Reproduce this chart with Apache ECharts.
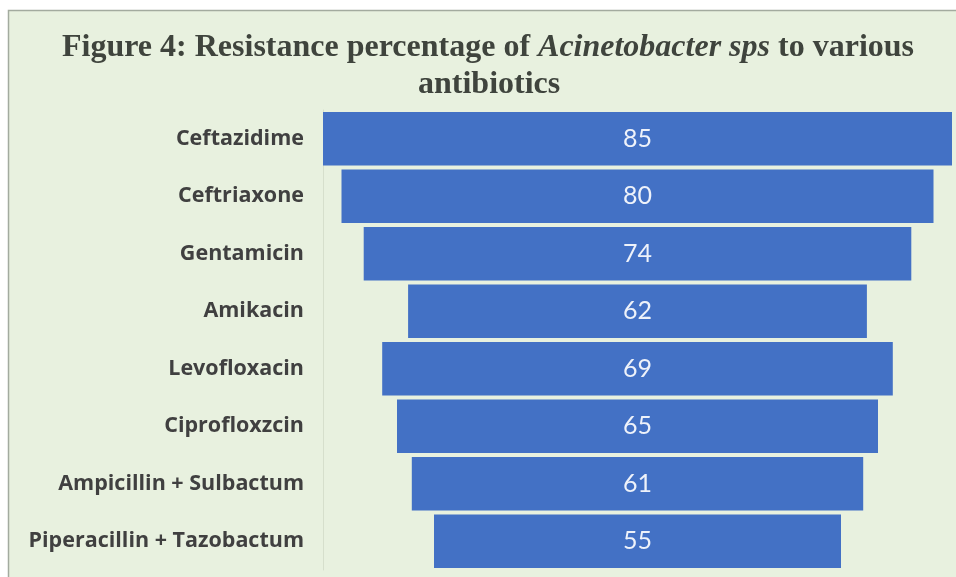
<!DOCTYPE html>
<html>
<head>
<meta charset="utf-8">
<script src="https://cdn.jsdelivr.net/npm/echarts@6/dist/echarts.min.js"></script>
<style>
html,body{margin:0;padding:0;background:#ffffff;}
#chart{width:956px;height:577px;}
</style>
</head>
<body>
<div id="chart"></div>
<script>
const categories = ['Ceftazidime','Ceftriaxone','Gentamicin','Amikacin','Levofloxacin','Ciprofloxzcin','Ampicillin + Sulbactum','Piperacillin + Tazobactum'];
const resistance = [85, 80, 74, 62, 69, 65, 61, 55];

const maxVal = Math.max(...resistance);
const padding = resistance.map(v => (maxVal - v) / 2);

const titleRich = {
  b: { fontFamily: 'Liberation Serif', fontWeight: 'bold', fontSize: 32, color: '#3f443d', lineHeight: 38 },
  i: { fontFamily: 'Liberation Serif', fontWeight: 'bold', fontStyle: 'italic', fontSize: 32, color: '#3f443d', lineHeight: 38 }
};

const chart = echarts.init(document.getElementById('chart'));
chart.setOption({
  backgroundColor: '#ffffff',
  animation: false,
  graphic: [{
    type: 'rect',
    z: -10,
    silent: true,
    shape: { x: 8.5, y: 10.5, width: 960, height: 580 },
    style: { fill: '#e8f1df', stroke: '#a3ab9f', lineWidth: 1.5 }
  }],
  title: [
    {
      left: 62, top: 29, padding: 0,
      text: '{b|Figure 4: Resistance percentage of }{i|Acinetobacter sps}{b| to various}',
      textStyle: { rich: titleRich }
    },
    {
      left: 418, top: 66, padding: 0,
      text: '{b|antibiotics}',
      textStyle: { rich: titleRich }
    }
  ],
  grid: { left: 323, right: 4, top: 110, bottom: 7, containLabel: false },
  xAxis: {
    type: 'value', min: 0, max: maxVal, show: false
  },
  yAxis: {
    type: 'category', data: categories, inverse: true,
    axisLine: { show: true, lineStyle: { color: '#d6dfcc', width: 1 } },
    axisTick: { show: false },
    axisLabel: { color: '#404040', fontFamily: 'Open Sans', fontWeight: 'bold', fontSize: 21.5, margin: 19 }
  },
  series: [
    {
      type: 'bar', stack: 'f', data: padding, silent: true,
      itemStyle: { color: 'rgba(0,0,0,0)' }, barCategoryGap: '7%'
    },
    {
      type: 'bar', stack: 'f', data: resistance, barCategoryGap: '7%',
      itemStyle: { color: '#4371c5' },
      label: { show: true, position: 'inside', color: '#eef2fa', fontFamily: 'Lato', fontSize: 25 }
    }
  ]
});
</script>
</body>
</html>
